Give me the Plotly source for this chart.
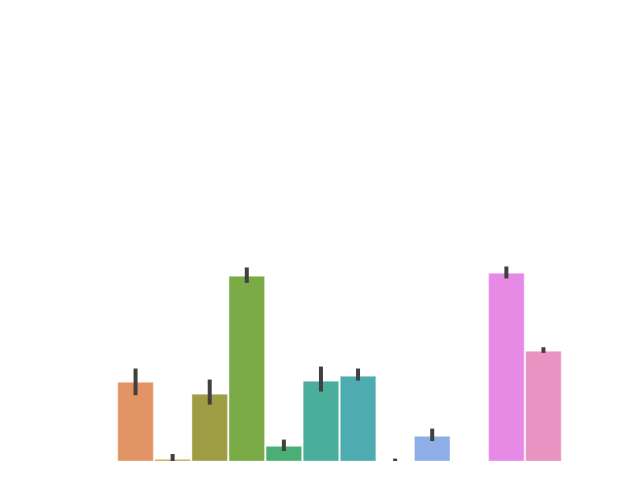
import plotly.graph_objects as go

categories = ["A", "B", "C", "D", "E", "F", "G", "H", "I", "J", "K", "L"]
values = [7.87, 0.17, 6.67, 18.47, 1.47, 7.97, 8.47, 0.0, 2.47, None, 18.77, 10.97]
ci_high = [9.24, 0.70, 8.14, 19.34, 2.14, 9.44, 9.24, 0.24, 3.24, None, 19.44, 11.37]
ci_low = [6.57, 0.0, 5.64, 17.80, 1.00, 6.94, 8.04, 0.0, 2.00, None, 18.24, 10.80]
colors = ["#e39464", "#c9a550", "#9e9d44", "#7aab47", "#4aaf74", "#4bad9c",
          "#4eabb0", "#55a8d0", "#8eaee8", "#b49cf0", "#e68ae6", "#e893c2"]

err_plus = [None if v is None else h - v for v, h in zip(values, ci_high)]
err_minus = [None if v is None else v - l for v, l in zip(values, ci_low)]

fig = go.Figure(go.Bar(
    x=categories, y=values,
    marker=dict(color=colors, line=dict(color="rgba(255,255,255,0.35)", width=1.2)),
    error_y=dict(type="data", symmetric=False, array=err_plus, arrayminus=err_minus,
                 width=0, thickness=4, color="#404040"),
))

fig.update_layout(
    width=640, height=480,
    margin=dict(l=117, r=78, t=0, b=19.3),
    paper_bgcolor="white", plot_bgcolor="white",
    bargap=0.04, showlegend=False,
)
fig.update_xaxes(range=[-0.5, 11.5], showticklabels=False, showgrid=False,
                 zeroline=False, showline=False, ticks="")
fig.update_yaxes(range=[0, 46.07], showticklabels=False, showgrid=False,
                 zeroline=False, showline=False, ticks="")

fig.write_html("out.html")
